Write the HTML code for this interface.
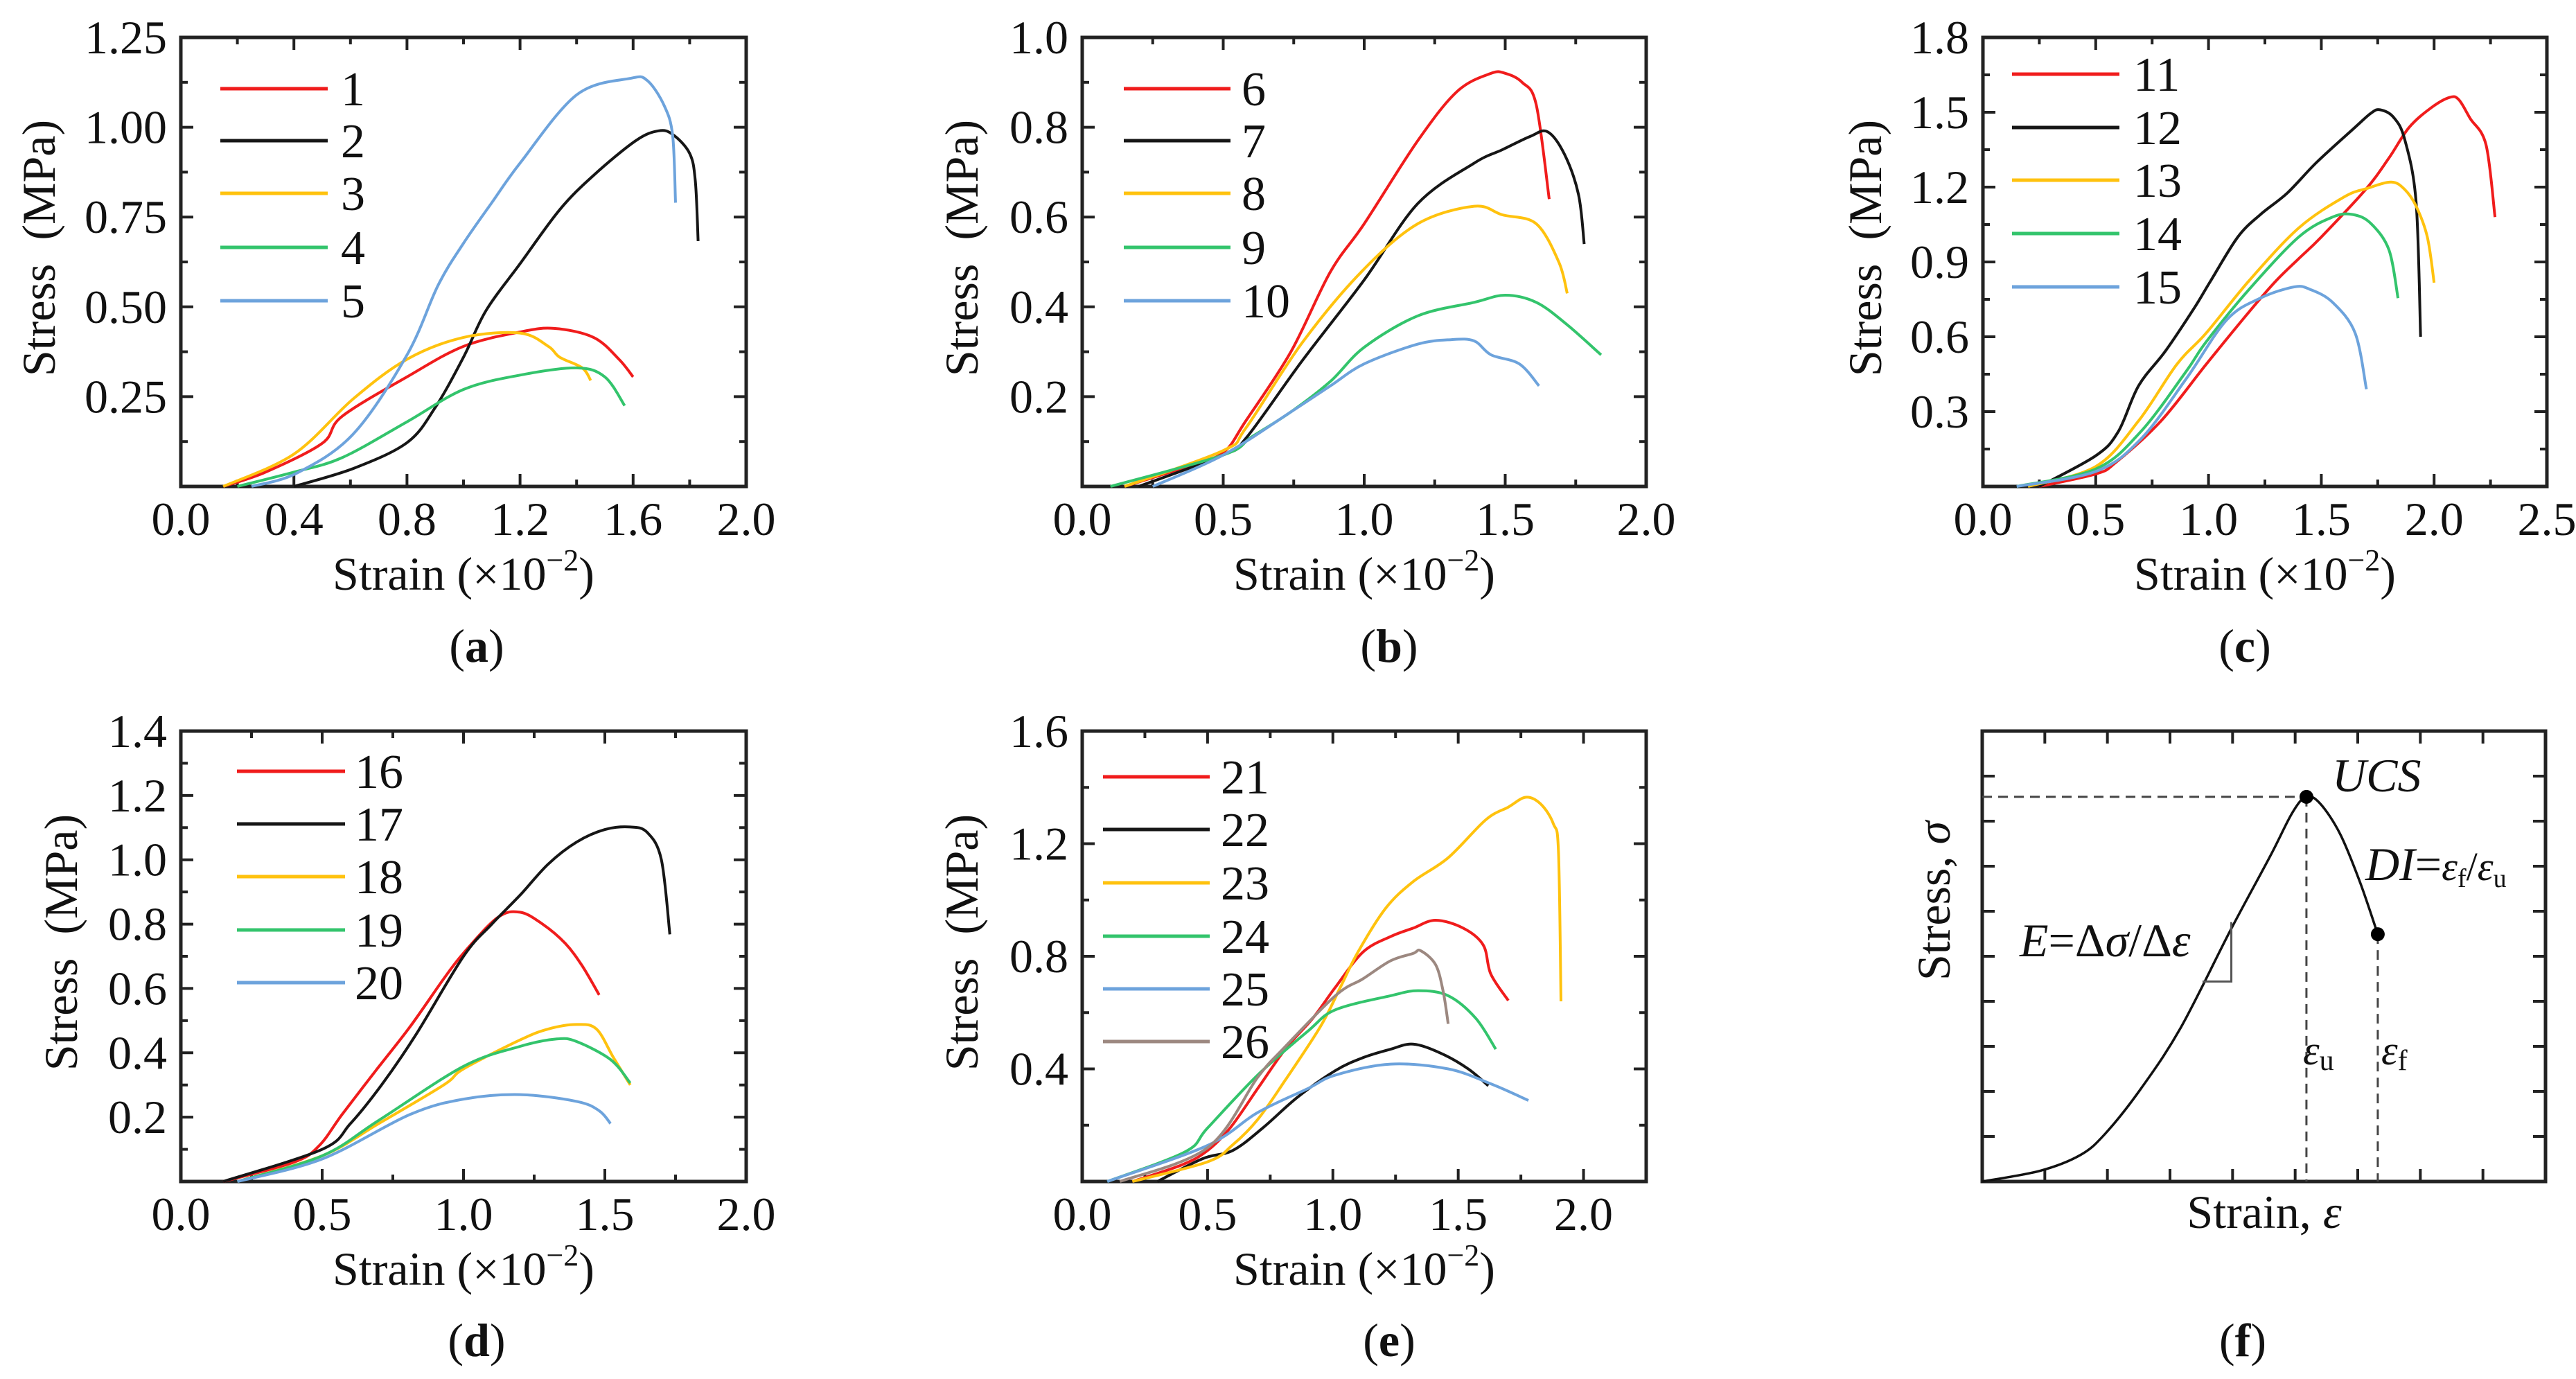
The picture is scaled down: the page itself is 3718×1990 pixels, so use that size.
<!DOCTYPE html>
<html><head><meta charset="utf-8"><style>
html,body{margin:0;padding:0;background:#fff;}
svg{display:block;font-family:"Liberation Serif",serif;}
</style></head><body>
<svg id="fig" width="3718" height="1990" viewBox="0 0 3718 1990" xmlns="http://www.w3.org/2000/svg"></svg>
<script>
// ---- data (strain ×10^-2, stress MPa) ----
const s1Strain=[0.15,0.3,0.5,0.57,0.8,1.0,1.2,1.32,1.46,1.55,1.6];
const s1Stress=[0,0.04,0.12,0.195,0.305,0.39,0.43,0.44,0.415,0.354,0.305];
const s2Strain=[0.4,0.61,0.8,0.9,1.0,1.08,1.2,1.34,1.46,1.61,1.69,1.74,1.8,1.82,1.83];
const s2Stress=[0,0.05,0.122,0.22,0.36,0.49,0.62,0.77,0.866,0.963,0.99,0.98,0.927,0.85,0.683];
const s3Strain=[0.15,0.4,0.61,0.8,1.0,1.2,1.3,1.34,1.42,1.45];
const s3Stress=[0,0.09,0.244,0.354,0.415,0.427,0.39,0.36,0.33,0.295];
const s4Strain=[0.2,0.4,0.57,0.8,1.0,1.2,1.4,1.5,1.57];
const s4Stress=[0,0.04,0.08,0.18,0.27,0.31,0.33,0.305,0.225];
const s5Strain=[0.25,0.41,0.61,0.8,0.91,1.0,1.1,1.2,1.4,1.59,1.65,1.71,1.74,1.75];
const s5Stress=[0,0.037,0.146,0.366,0.56,0.677,0.79,0.9,1.09,1.136,1.13,1.06,0.976,0.79];

const s6Strain=[0.15,0.4,0.505,0.58,0.74,0.88,1.0,1.19,1.33,1.45,1.5,1.56,1.61,1.656];
const s6Stress=[0,0.05,0.078,0.146,0.3,0.478,0.585,0.77,0.88,0.92,0.92,0.9,0.85,0.64];
const s7Strain=[0.2,0.5,0.58,0.78,1.0,1.19,1.39,1.49,1.59,1.65,1.71,1.76,1.78];
const s7Stress=[0,0.07,0.107,0.28,0.46,0.63,0.72,0.75,0.78,0.79,0.74,0.65,0.54];
const s8Strain=[0.15,0.5,0.58,0.78,0.99,1.19,1.39,1.49,1.61,1.69,1.72];
const s8Stress=[0,0.08,0.13,0.32,0.478,0.585,0.624,0.605,0.585,0.5,0.43];
const s9Strain=[0.1,0.5,0.6,0.74,0.88,1.0,1.19,1.39,1.5,1.61,1.72,1.84];
const s9Stress=[0,0.07,0.11,0.166,0.234,0.31,0.38,0.41,0.426,0.41,0.36,0.293];
const s10Strain=[0.25,0.5,0.74,0.88,1.0,1.19,1.31,1.39,1.45,1.55,1.62];
const s10Stress=[0,0.07,0.166,0.224,0.273,0.317,0.327,0.324,0.293,0.273,0.224];

const s11Strain=[0.25,0.5,0.59,0.79,0.99,1.18,1.3,1.4,1.5,1.7,1.8,1.89,1.99,2.07,2.11,2.16,2.23,2.27];
const s11Stress=[0,0.05,0.097,0.263,0.49,0.7,0.825,0.913,1.0,1.194,1.317,1.44,1.52,1.56,1.55,1.475,1.37,1.08];
const s12Strain=[0.25,0.5,0.6,0.69,0.81,0.94,1.01,1.13,1.23,1.35,1.48,1.65,1.72,1.76,1.82,1.87,1.92,1.94];
const s12Stress=[0,0.123,0.22,0.404,0.544,0.72,0.825,1.0,1.09,1.177,1.3,1.44,1.496,1.51,1.48,1.39,1.14,0.6];
const s13Strain=[0.2,0.5,0.69,0.86,0.99,1.18,1.4,1.6,1.7,1.81,1.87,1.92,1.97,2.0];
const s13Stress=[0,0.08,0.263,0.49,0.615,0.825,1.036,1.16,1.194,1.22,1.19,1.124,1.0,0.817];
const s14Strain=[0.15,0.5,0.7,0.9,0.99,1.18,1.4,1.55,1.64,1.72,1.8,1.84];
const s14Stress=[0,0.07,0.22,0.46,0.58,0.79,1.0,1.08,1.09,1.054,0.948,0.755];
const s15Strain=[0.15,0.5,0.7,0.9,1.08,1.23,1.38,1.45,1.55,1.65,1.7];
const s15Stress=[0,0.06,0.19,0.43,0.667,0.755,0.8,0.79,0.738,0.615,0.39];

const s16Strain=[0.15,0.4,0.49,0.57,0.69,0.81,0.93,1.0,1.12,1.2,1.28,1.36,1.42,1.48];
const s16Stress=[0,0.06,0.112,0.208,0.345,0.48,0.63,0.71,0.82,0.837,0.8,0.74,0.67,0.58];
const s17Strain=[0.15,0.5,0.6,0.71,0.83,1.0,1.1,1.2,1.3,1.4,1.5,1.59,1.65,1.7,1.73];
const s17Stress=[0,0.1,0.18,0.3,0.454,0.7,0.8,0.89,0.987,1.055,1.094,1.102,1.085,1.0,0.768];
const s18Strain=[0.2,0.5,0.7,0.93,1.0,1.2,1.3,1.4,1.47,1.53,1.59];
const s18Stress=[0,0.08,0.18,0.3,0.35,0.44,0.474,0.488,0.474,0.386,0.3];
const s19Strain=[0.2,0.5,0.7,1.0,1.2,1.33,1.4,1.52,1.59];
const s19Stress=[0,0.08,0.19,0.358,0.42,0.443,0.435,0.379,0.306];
const s20Strain=[0.2,0.5,0.81,1.0,1.2,1.4,1.48,1.52];
const s20Stress=[0,0.07,0.208,0.256,0.27,0.249,0.22,0.18];

const s21Strain=[0.2,0.4,0.5,0.59,0.7,0.81,0.92,1.01,1.12,1.23,1.32,1.41,1.52,1.6,1.63,1.7];
const s21Stress=[0,0.06,0.11,0.19,0.33,0.47,0.58,0.69,0.815,0.87,0.9,0.928,0.9,0.84,0.737,0.643];
const s22Strain=[0.3,0.48,0.6,0.72,0.86,1.01,1.12,1.23,1.32,1.43,1.54,1.62];
const s22Stress=[0,0.081,0.11,0.19,0.3,0.394,0.44,0.47,0.488,0.456,0.4,0.34];
const s23Strain=[0.2,0.5,0.6,0.7,0.81,0.95,1.03,1.1,1.21,1.32,1.46,1.61,1.7,1.77,1.83,1.88,1.9,1.91];
const s23Stress=[0,0.07,0.13,0.22,0.36,0.55,0.69,0.815,0.97,1.065,1.15,1.285,1.33,1.365,1.34,1.27,1.17,0.64];
const s24Strain=[0.1,0.41,0.5,0.7,0.9,1.01,1.23,1.34,1.46,1.57,1.65];
const s24Stress=[0,0.105,0.19,0.378,0.534,0.61,0.66,0.678,0.66,0.58,0.47];
const s25Strain=[0.1,0.5,0.7,0.9,1.01,1.23,1.46,1.63,1.78];
const s25Stress=[0,0.128,0.245,0.33,0.378,0.417,0.4,0.347,0.288];
const s26Strain=[0.15,0.5,0.7,0.8,1.01,1.12,1.23,1.32,1.35,1.41,1.44,1.46];
const s26Stress=[0,0.12,0.37,0.47,0.66,0.72,0.784,0.81,0.82,0.77,0.675,0.56];

// schematic (f), arbitrary units: x 0..9, y 0..10
const fStrain=[0,0.93,1.57,1.97,2.53,3.17,3.96,4.6,4.96,5.18,5.4,5.72,6.04,6.32];
const fStress=[0,0.24,0.59,1.07,2.05,3.41,5.56,7.22,8.2,8.54,8.39,7.71,6.63,5.49];

const colors=["#f01c1c","#161616","#ffc20e","#33c46c","#6da3dc","#9c8880"];

const svg=document.getElementById('fig');
const NS="http://www.w3.org/2000/svg";
function mk(tag,attrs,parent){const e=document.createElementNS(NS,tag);for(const k in attrs)e.setAttribute(k,attrs[k]);(parent||svg).appendChild(e);return e;}

// smooth path through points (Catmull-Rom -> cubic Bezier)
function smooth(pts){
  let d='M'+pts[0][0].toFixed(1)+','+pts[0][1].toFixed(1);
  for(let i=0;i<pts.length-1;i++){
    const p0=pts[Math.max(0,i-1)],p1=pts[i],p2=pts[i+1],p3=pts[Math.min(pts.length-1,i+2)];
    const k=1/6;
    const c1=[p1[0]+(p2[0]-p0[0])*k,p1[1]+(p2[1]-p0[1])*k];
    const c2=[p2[0]-(p3[0]-p1[0])*k,p2[1]-(p3[1]-p1[1])*k];
    d+=' C'+c1[0].toFixed(1)+','+c1[1].toFixed(1)+' '+c2[0].toFixed(1)+','+c2[1].toFixed(1)+' '+p2[0].toFixed(1)+','+p2[1].toFixed(1);
  }
  return d;
}

const panels=[
 {id:'a',L:261,R:1077,T:54,B:702,xmax:2,ymax:1.25,xmaj:0.4,xmin:0.2,ymaj:0.25,ymin:0.125,xdec:1,ydec:2,
  series:[[s1Strain,s1Stress],[s2Strain,s2Stress],[s3Strain,s3Stress],[s4Strain,s4Stress],[s5Strain,s5Stress]],names:['1','2','3','4','5'],
  legX:[318,473,492],legY:[128,203,279,357,434],ytx:56,cap:[688,955]},
 {id:'b',L:1562,R:2376,T:54,B:702,xmax:2,ymax:1.0,xmaj:0.5,xmin:0.25,ymaj:0.2,ymin:0.1,xdec:1,ydec:1,
  series:[[s6Strain,s6Stress],[s7Strain,s7Stress],[s8Strain,s8Stress],[s9Strain,s9Stress],[s10Strain,s10Stress]],names:['6','7','8','9','10'],
  legX:[1622,1776,1792],legY:[128,203,279,357,434],ytx:1388,cap:[2005,955]},
 {id:'c',L:2862,R:3676,T:54,B:702,xmax:2.5,ymax:1.8,xmaj:0.5,xmin:0.25,ymaj:0.3,ymin:0.15,xdec:1,ydec:1,
  series:[[s11Strain,s11Stress],[s12Strain,s12Stress],[s13Strain,s13Stress],[s14Strain,s14Stress],[s15Strain,s15Stress]],names:['11','12','13','14','15'],
  legX:[2904,3059,3079],legY:[107,184,260,337,414],ytx:2692,cap:[3240,955]},
 {id:'d',L:261,R:1077,T:1055,B:1705,xmax:2,ymax:1.4,xmaj:0.5,xmin:0.25,ymaj:0.2,ymin:0.1,xdec:1,ydec:1,
  series:[[s16Strain,s16Stress],[s17Strain,s17Stress],[s18Strain,s18Stress],[s19Strain,s19Stress],[s20Strain,s20Stress]],names:['16','17','18','19','20'],
  legX:[342,498,512],legY:[1113,1189,1265,1342,1418],ytx:88,cap:[688,1957]},
 {id:'e',L:1562,R:2376,T:1055,B:1705,xmax:2.25,ymax:1.6,xmaj:0.5,xmin:0.25,ymaj:0.4,ymin:0.2,xdec:1,ydec:1,
  series:[[s21Strain,s21Stress],[s22Strain,s22Stress],[s23Strain,s23Stress],[s24Strain,s24Stress],[s25Strain,s25Stress],[s26Strain,s26Stress]],names:['21','22','23','24','25','26'],
  legX:[1592,1746,1762],legY:[1121,1197,1274,1351,1427,1503],ytx:1388,cap:[2005,1957]}
];

function frame(g,p,xticks,yticks){
  const sx=v=>p.L+(v/p.xmax)*(p.R-p.L), sy=v=>p.B-(v/p.ymax)*(p.B-p.T);
  xticks.forEach(t=>{const len=t.maj?18:10;const x=sx(t.v);
    mk('line',{x1:x,y1:p.B,x2:x,y2:p.B-len,stroke:'#222','stroke-width':4},g);
    mk('line',{x1:x,y1:p.T,x2:x,y2:p.T+len,stroke:'#222','stroke-width':4},g);});
  yticks.forEach(t=>{const len=t.maj?18:10;const y=sy(t.v);
    mk('line',{x1:p.L,y1:y,x2:p.L+len,y2:y,stroke:'#222','stroke-width':4},g);
    mk('line',{x1:p.R,y1:y,x2:p.R-len,y2:y,stroke:'#222','stroke-width':4},g);});
  const r=mk('rect',{x:p.L,y:p.T,width:p.R-p.L,height:p.B-p.T,fill:'none',stroke:'#222','stroke-width':5},g);
  
  
  return [sx,sy];
}

panels.forEach(p=>{
  const g=mk('g',{});
  
  
  const xt=[],yt=[];
  const nx=Math.round(p.xmax/p.xmin);for(let i=0;i<=nx;i++){const v=i*p.xmin;xt.push({v:v,maj:Math.abs(v/p.xmaj-Math.round(v/p.xmaj))<1e-6});}
  const ny=Math.round(p.ymax/p.ymin);for(let i=0;i<=ny;i++){const v=i*p.ymin;yt.push({v:v,maj:Math.abs(v/p.ymaj-Math.round(v/p.ymaj))<1e-6});}
  const [sx,sy]=frame(g,p,xt,yt);
  p.series.forEach((s,i)=>{
    const pts=s[0].map((x,j)=>[sx(x),sy(s[1][j])]);
    const path=mk('path',{d:smooth(pts),fill:'none',stroke:colors[i],'stroke-width':4,'stroke-linejoin':'round'},g);
    
    
  });
  xt.filter(t=>t.maj).forEach(t=>{
    const tx=mk('text',{x:sx(t.v),y:p.B+70,'font-size':68,'text-anchor':'middle',fill:'#111'},g);
    tx.textContent=t.v.toFixed(p.xdec);
    
    
  });
  yt.filter(t=>t.maj&&t.v>0).forEach(t=>{
    const ty=mk('text',{x:p.L-20,y:sy(t.v)+23,'font-size':68,'text-anchor':'end',fill:'#111'},g);
    ty.textContent=t.v.toFixed(p.ydec);
    
    
  });
  const xtl=mk('text',{x:(p.L+p.R)/2,y:p.B+149,'font-size':68,'text-anchor':'middle',fill:'#111'},g);
  xtl.innerHTML='Strain (×10<tspan dy="-28" font-size="44">−2</tspan><tspan dy="28">)</tspan>';
  
  
  const cy=(p.T+p.B)/2-20;
  const ytl=mk('text',{x:p.ytx,y:cy,'font-size':68,'text-anchor':'middle',fill:'#111',transform:'rotate(-90 '+p.ytx+' '+cy+')','dominant-baseline':'central'},g);
  ytl.textContent='Stress\u00a0\u00a0(MPa)';
  
  
  p.names.forEach((n,i)=>{
    const lg=mk('g',{},g);
    
    
    mk('line',{x1:p.legX[0],y1:p.legY[i],x2:p.legX[1],y2:p.legY[i],stroke:colors[i],'stroke-width':5},lg);
    const lt=mk('text',{x:p.legX[2],y:p.legY[i]+24,'font-size':70,fill:'#111'},lg);
    lt.textContent=n;
  });
  const cp=mk('text',{x:p.cap[0],y:p.cap[1],'font-size':68,'text-anchor':'middle',fill:'#111'},g);
  cp.innerHTML='(<tspan font-weight="bold">'+p.id+'</tspan>)';
  
  
});

// ---- panel f schematic ----
(function(){
  const p={L:2861,R:3674,T:1055,B:1705,xmax:9,ymax:10};
  const g=mk('g',{});
  
  
  const xt=[],yt=[];
  for(let i=0;i<=9;i++)xt.push({v:i,maj:true});
  for(let i=0;i<=10;i++)yt.push({v:i,maj:true});
  const [sx,sy]=frame(g,p,xt,yt);
  const pts=fStrain.map((x,j)=>[sx(x),sy(fStress[j])]);
  const c=mk('path',{d:smooth(pts),fill:'none',stroke:'#111','stroke-width':3.5,'stroke-linejoin':'round'},g);
  
  
  const pk=9, fl=fStrain.length-1;
  const dash={stroke:'#444','stroke-width':3,'stroke-dasharray':'14 9',fill:'none'};
  mk('line',Object.assign({x1:p.L,y1:sy(fStress[pk]),x2:sx(fStrain[pk]),y2:sy(fStress[pk])},dash),g);
  mk('line',Object.assign({x1:sx(fStrain[pk]),y1:sy(fStress[pk]),x2:sx(fStrain[pk]),y2:p.B},dash),g);
  mk('line',Object.assign({x1:sx(fStrain[fl]),y1:sy(fStress[fl]),x2:sx(fStrain[fl]),y2:p.B},dash),g);
  const d1=mk('circle',{cx:sx(fStrain[pk]),cy:sy(fStress[pk]),r:10,fill:'#000'},g);
  
  
  const d2=mk('circle',{cx:sx(fStrain[fl]),cy:sy(fStress[fl]),r:10,fill:'#000'},g);
  
  
  mk('polyline',{points:[sx(3.52),sy(4.44),sx(3.98),sy(4.44),sx(3.98),sy(5.76)].join(' '),fill:'none',stroke:'#555','stroke-width':3},g);
  function T(x,y,html,name,extra){const t=mk('text',Object.assign({x:x,y:y,'font-size':68,fill:'#111'},extra||{}),g);t.innerHTML=html;
    return t;}
  T(3366,1142,'<tspan font-style="italic">UCS</tspan>','ucs-label');
  T(3414,1270,'<tspan font-style="italic">DI</tspan>=<tspan font-style="italic" font-size="58">ε</tspan><tspan font-size="38" dy="10">f</tspan><tspan dy="-10" font-size="58">/</tspan><tspan font-style="italic" font-size="58">ε</tspan><tspan font-size="38" dy="10">u</tspan>','ductility-index-label');
  T(2915,1380,'<tspan font-style="italic">E</tspan>=Δ<tspan font-style="italic">σ</tspan>/Δ<tspan font-style="italic">ε</tspan>','modulus-label');
  T(3324,1536,'<tspan font-style="italic">ε</tspan><tspan font-size="42" dy="8">u</tspan>','strain-peak-label',{'font-size':60});
  T(3437,1536,'<tspan font-style="italic">ε</tspan><tspan font-size="42" dy="8">f</tspan>','strain-failure-label',{'font-size':60});
  T(3268,1772,'Strain, <tspan font-style="italic">ε</tspan>','x-axis-title',{'text-anchor':'middle'});
  T(2791,1300,'Stress, <tspan font-style="italic">σ</tspan>','y-axis-title',{'text-anchor':'middle','dominant-baseline':'central',transform:'rotate(-90 2791 1300)'});
  T(3237,1957,'(<tspan font-weight="bold">f</tspan>)','panel-caption',{'text-anchor':'middle'});
})();
</script>
</body></html>
